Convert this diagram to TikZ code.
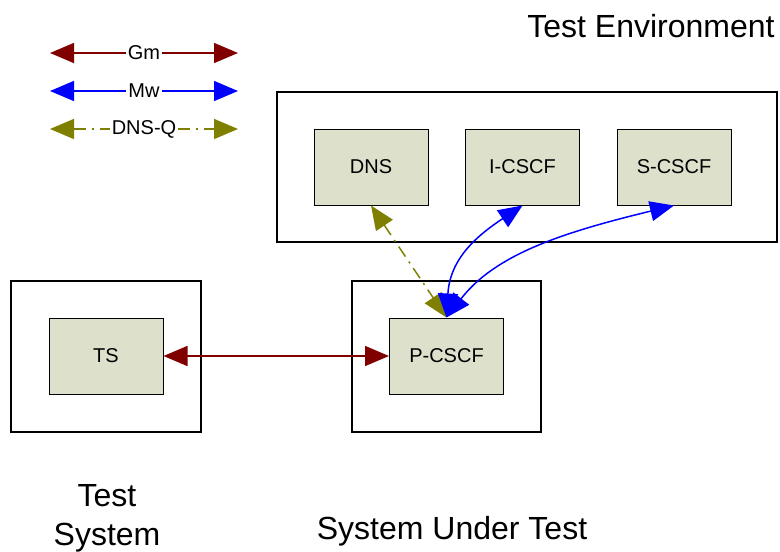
\documentclass[tikz,border=0pt]{standalone}
\usepackage{fontspec}
\setmainfont{Liberation Sans}
\usetikzlibrary{arrows.meta}
\definecolor{boxfill}{RGB}{221,225,204}
\definecolor{gmred}{RGB}{128,0,0}
\definecolor{dnsolive}{RGB}{128,128,0}

\begin{document}
\begin{tikzpicture}[x=0.5pt, y=-0.5pt, font=\fontsize{10}{12}\selectfont,
    elem/.style={draw, line width=0.5pt, fill=boxfill, minimum width=57pt, minimum height=38pt, inner sep=0pt},
    frame/.style={draw, line width=1pt},
    bigtext/.style={font=\fontsize{16}{19.5}\selectfont, align=center},
    tip/.style={Triangle[length=12pt, width=10pt]},
    gm/.style={gmred, line width=0.75pt, {Triangle[length=12pt, width=10pt]}-{Triangle[length=12pt, width=10pt]}},
    mw/.style={blue, line width=0.75pt, {Triangle[length=12pt, width=10pt]}-{Triangle[length=12pt, width=10pt]}},
    dnsq/.style={dnsolive, line width=0.75pt, dash pattern={on 6pt off 3pt on 1pt off 3pt}, {Triangle[length=12pt, width=10pt]}-{Triangle[length=12pt, width=10pt]}},
    lbl/.style={fill=white, inner sep=1pt}]

    \useasboundingbox (0,0) rectangle (780,551);

    % Legend, one line per interface
    \foreach \y/\sty/\txt/\nm in {53/gm/Gm/gm, 91/mw/Mw/mw, 129/dnsq/DNS-Q/dnsq} {
        \coordinate (\nm L) at (50,\y);
        \coordinate (\nm R) at (238,\y);
        \draw[\sty] (\nm L) -- node[lbl, text=black] (\nm label) {\txt} (\nm R);
    }

    % Frames round the three parts
    \draw[frame] (277,92) rectangle (777,242); % test environment
    \draw[frame] (11,281) rectangle (201,432);  % test system
    \draw[frame] (352,281) rectangle (541,432); % system under test

    % Elements of the test environment
    \foreach \name/\xc/\txt in {dns/371/DNS, icscf/522.5/I-CSCF, scscf/674/S-CSCF} {
        \node[elem] (\name) at (\xc,167) {\txt};
    }
    \node[elem] (ts) at (106,356) {TS};
    \node[elem] (pcscf) at (446.5,356) {P-CSCF};

    % Interfaces
    \draw[gm] (ts.east) -- (pcscf.west);
    \draw[dnsq] (dns.south) -- (pcscf.north);
    \draw[mw] (pcscf.north) .. controls (450,258) and (478,235) .. (icscf.south);
    \draw[mw] (pcscf.north) .. controls (495,255) and (560,233) .. (scscf.south);

    % Titles
    \node[bigtext] (envtitle) at (651,26) {Test Environment};
    \node[bigtext] (tstitle) at (107,518) {Test\\System};
    \node[bigtext] (suttitle) at (452,531) {System Under Test};
\end{tikzpicture}
\end{document}
